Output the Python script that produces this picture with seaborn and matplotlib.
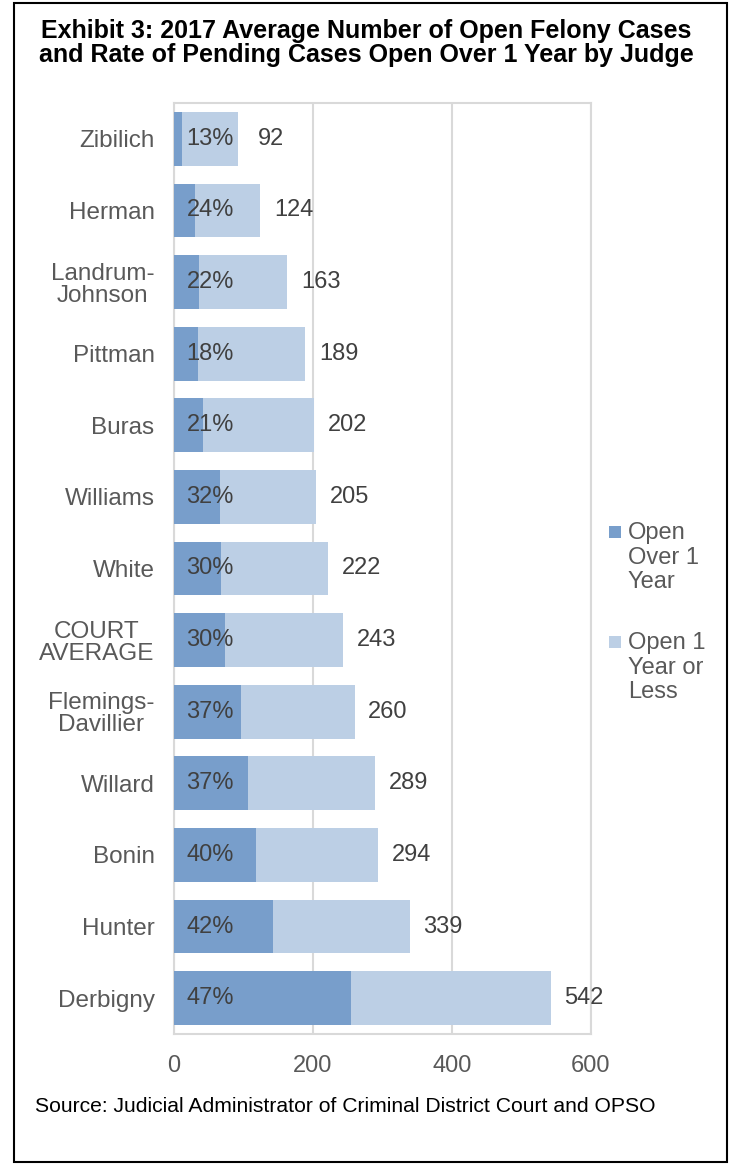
import matplotlib
matplotlib.use("Agg")
import matplotlib.pyplot as plt
import seaborn as sns
import pandas as pd
from matplotlib.patches import Rectangle

judges = ["Zibilich", "Herman", "Landrum-\nJohnson", "Pittman", "Buras", "Williams", "White",
          "COURT\nAVERAGE", "Flemings-\nDavillier", "Willard", "Bonin", "Hunter", "Derbigny"]
total_cases = [92, 124, 163, 189, 202, 205, 222, 243, 260, 289, 294, 339, 542]
over_1_year = [12, 30, 36, 34, 42, 66, 67, 73, 96, 107, 118, 142, 255]
pct_labels = ["13%", "24%", "22%", "18%", "21%", "32%", "30%", "30%", "37%", "37%", "40%", "42%", "47%"]
x_ticks = [0, 200, 400, 600]
legend_labels = ["Open\nOver 1\nYear", "Open 1\nYear or\nLess"]

DARK = "#789ECB"
LIGHT = "#BCCFE5"
TXT = "#404040"
GRID = "#D9D9D9"

sns.set_theme(style="white")
plt.rcParams["font.family"] = ["Liberation Sans", "DejaVu Sans"]

df = pd.DataFrame({"judge": judges, "total": total_cases, "over": over_1_year})

fig = plt.figure(figsize=(7.31, 11.65), dpi=100)
ax = fig.add_axes([174/731, 1-1034/1165, (591-174)/731, (1034-103)/1165])

sns.barplot(data=df, x="total", y="judge", orient="h", color=LIGHT, width=0.75,
            saturation=1, ax=ax, zorder=2, linewidth=0, edgecolor="none")
sns.barplot(data=df, x="over", y="judge", orient="h", color=DARK, width=0.75,
            saturation=1, ax=ax, zorder=3, linewidth=0, edgecolor="none")

ax.set_xlim(0, 600)
ax.set_ylim(12.5, -0.5)
ax.set_xticks(x_ticks)
ax.set_xticklabels([str(t) for t in x_ticks])
ax.tick_params(axis="x", length=0, pad=15, labelsize=17, labelcolor="#595959")
ax.tick_params(axis="y", length=0, pad=14, labelsize=17.5, labelcolor="#595959")
for lab in ax.get_yticklabels():
    lab.set_horizontalalignment("right")
    lab.set_multialignment("center")
    lab.set_linespacing(1.0)
ax.set_xlabel("")
ax.set_ylabel("")
ax.xaxis.grid(True, color=GRID, linewidth=1.5, zorder=0)
ax.set_axisbelow(True)
for s in ax.spines.values():
    s.set_visible(True)
    s.set_color(GRID)
    s.set_linewidth(1.5)

for i, (t, p) in enumerate(zip(total_cases, pct_labels)):
    ax.annotate(p, xy=(0, i), xytext=(9, 0), textcoords="offset points",
                ha="left", va="center", fontsize=17, color=TXT, zorder=5)
    ax.annotate(str(t), xy=(t, i), xytext=(24, 0), textcoords="offset points",
                ha="center", va="center", fontsize=17, color=TXT, zorder=5)

# Title
fig.text(366/731, 1-43/1165, "Exhibit 3: 2017 Average Number of Open Felony Cases\n"
         "and Rate of Pending Cases Open Over 1 Year by Judge",
         ha="center", va="center", fontsize=18, fontweight="bold", color="black",
         linespacing=0.97)

# Source
fig.text(35/731, 1-1107/1165, "Source: Judicial Administrator of Criminal District Court and OPSO",
         ha="left", va="center", fontsize=15.2, color="black")

# Legend (manual)
for lbl, col, ytop in zip(legend_labels, [DARK, LIGHT], [522, 632]):
    fig.add_artist(Rectangle((609/731, 1-(ytop+16)/1165), 12/731, 12/1165,
                             transform=fig.transFigure, facecolor=col, edgecolor="none"))
    fig.text(628/731, 1-ytop/1165, lbl, ha="left", va="top", fontsize=17,
             color="#595959", linespacing=1.15)

# Outer frame
fig.add_artist(Rectangle((14/731, 3/1165), (727-14)/731, (1162-3)/1165,
                         transform=fig.transFigure, facecolor="none",
                         edgecolor="black", linewidth=1.5))

fig.savefig("out.png", dpi=100)
